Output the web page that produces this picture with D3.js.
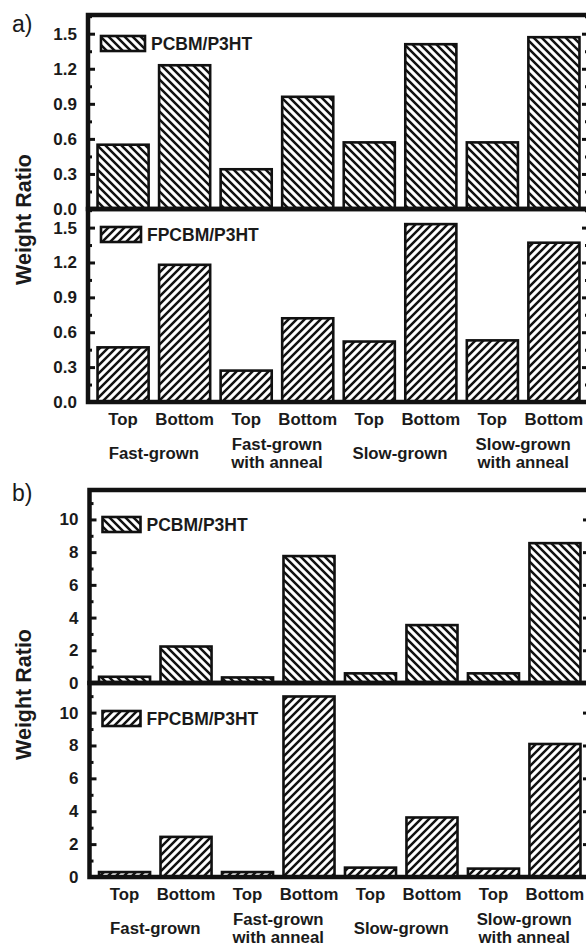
<!DOCTYPE html>
<html>
<head>
<meta charset="utf-8">
<script src="https://cdn.jsdelivr.net/npm/d3@7"></script>
<style>
  html, body { margin: 0; padding: 0; background: #fff; }
  svg { display: block; }
  text { font-family: "Liberation Sans", Arial, sans-serif; fill: #1a1a1a; }
</style>
</head>
<body>
<svg id="chart" width="586" height="946"></svg>
<script>
// ---------------- data ----------------
const positions = ["Top", "Bottom", "Top", "Bottom", "Top", "Bottom", "Top", "Bottom"];
const groups = [["Fast-grown"], ["Fast-grown", "with anneal"], ["Slow-grown"], ["Slow-grown", "with anneal"]];
const seriesNames = ["PCBM/P3HT", "FPCBM/P3HT"];

const aPCBM  = [0.55, 1.23, 0.34, 0.96, 0.57, 1.41, 0.57, 1.47];
const aFPCBM = [0.47, 1.18, 0.27, 0.72, 0.52, 1.53, 0.53, 1.37];
const bPCBM  = [0.38, 2.23, 0.34, 7.76, 0.59, 3.54, 0.59, 8.55];
const bFPCBM = [0.30, 2.44, 0.30, 10.98, 0.57, 3.62, 0.51, 8.09];

const aTicks = [0, 0.3, 0.6, 0.9, 1.2, 1.5];
const aMinor = [0.15, 0.45, 0.75, 1.05, 1.35, 1.65];
const bTicks = [0, 2, 4, 6, 8, 10];
const bMinor = [1, 3, 5, 7, 9, 11];

// ---------------- drawing ----------------
const svg = d3.select("#chart");
const defs = svg.append("defs");

function hatch(id, back) {
  const p = defs.append("pattern")
    .attr("id", id).attr("patternUnits", "userSpaceOnUse")
    .attr("width", 8).attr("height", 8);
  p.append("rect").attr("width", 8).attr("height", 8).attr("fill", "#fff");
  const d = back
    ? "M-2,-2 L10,10 M-2,6 L2,10 M6,-2 L10,2"
    : "M-2,10 L10,-2 M-2,2 L2,-2 M6,10 L10,6";
  p.append("path").attr("d", d).attr("stroke", "#111").attr("stroke-width", 2.5).attr("fill", "none");
}
hatch("hBack", true);
hatch("hFwd", false);

function subplot(cfg) {
  const g = svg.append("g");
  const x = d3.scaleLinear().domain([0.43, 8.57]).range([cfg.left, cfg.right]);
  const y = d3.scaleLinear().domain([0, cfg.ymax]).range([cfg.bottom, cfg.top]);
  const bw = 0.83;

  // bars
  g.selectAll("rect.bar").data(cfg.values).join("rect")
    .attr("class", "bar")
    .attr("x", (d, i) => x(i + 1 - bw / 2))
    .attr("width", x(1 + bw) - x(1))
    .attr("y", d => y(d))
    .attr("height", d => y(0) - y(d))
    .attr("fill", `url(#${cfg.pattern})`)
    .attr("stroke", "#111").attr("stroke-width", 2.6);

  // left axis (inward ticks)
  const left = g.append("g").attr("transform", `translate(${cfg.left},0)`)
    .call(d3.axisLeft(y).tickValues(cfg.ticks).tickSizeInner(-7).tickSizeOuter(0)
      .tickPadding(11).tickFormat(cfg.fmt));
  left.select(".domain").remove();
  left.selectAll("line").attr("stroke", "#111").attr("stroke-width", 3);
  left.selectAll("text").attr("font-size", 17).attr("font-weight", "bold")
    .attr("font-family", "'Liberation Sans', Arial, sans-serif").attr("fill", "#1a1a1a");

  const leftMinor = g.append("g").attr("transform", `translate(${cfg.left},0)`)
    .call(d3.axisLeft(y).tickValues(cfg.minor).tickSizeInner(-4).tickSizeOuter(0).tickFormat(""));
  leftMinor.select(".domain").remove();
  leftMinor.selectAll("line").attr("stroke", "#111").attr("stroke-width", 3);

  // right axis (inward ticks, no labels)
  const right = g.append("g").attr("transform", `translate(${cfg.right},0)`)
    .call(d3.axisRight(y).tickValues(cfg.ticks).tickSizeInner(-7).tickSizeOuter(0).tickFormat(""));
  right.select(".domain").remove();
  right.selectAll("line").attr("stroke", "#111").attr("stroke-width", 3);
  const rightMinor = g.append("g").attr("transform", `translate(${cfg.right},0)`)
    .call(d3.axisRight(y).tickValues(cfg.minor).tickSizeInner(-4).tickSizeOuter(0).tickFormat(""));
  rightMinor.select(".domain").remove();
  rightMinor.selectAll("line").attr("stroke", "#111").attr("stroke-width", 3);

  // frame
  g.append("rect").attr("x", cfg.left).attr("y", cfg.top)
    .attr("width", cfg.right - cfg.left).attr("height", cfg.bottom - cfg.top)
    .attr("fill", "none").attr("stroke", "#111").attr("stroke-width", 4.5);

  // legend
  g.append("rect").attr("x", cfg.left + cfg.lgX).attr("y", cfg.top + cfg.lgY)
    .attr("width", cfg.lgW).attr("height", cfg.lgH)
    .attr("fill", `url(#${cfg.pattern})`).attr("stroke", "#111").attr("stroke-width", 2.6);
  g.append("text").attr("x", cfg.left + cfg.lgX + cfg.lgW + 6)
    .attr("y", cfg.top + cfg.lgY + cfg.lgH / 2).attr("dy", "0.36em")
    .attr("font-size", 17.5).attr("font-weight", "bold").text(cfg.name);

  return x;
}

function xLabels(x, axisY, gap) {
  const g = svg.append("g");
  g.selectAll("text.pos").data(positions).join("text")
    .attr("class", "pos")
    .attr("x", (d, i) => x(i + 1)).attr("y", axisY + gap.pos)
    .attr("text-anchor", "middle").attr("font-size", 16.8).attr("font-weight", "bold").text(d => d);
  groups.forEach((lines, k) => {
    const cx = (x(2 * k + 1) + x(2 * k + 2)) / 2;
    const t = g.append("text").attr("text-anchor", "middle").attr("font-size", 16.8).attr("font-weight", "bold");
    if (lines.length === 1) {
      t.append("tspan").attr("x", cx).attr("y", axisY + gap.single).text(lines[0]);
    } else {
      t.append("tspan").attr("x", cx).attr("y", axisY + gap.l1).text(lines[0]);
      t.append("tspan").attr("x", cx).attr("y", axisY + gap.l2).text(lines[1]);
    }
  });
}

function panel(p) {
  const fmt = p.fmt;
  subplot({ left: p.left, right: p.right, top: p.top, bottom: p.mid, ymax: p.ymax,
    values: p.v1, pattern: "hBack", ticks: p.ticks, minor: p.minor, fmt,
    name: seriesNames[0], lgX: 13, lgY: p.lg1Y, lgW: p.lg1W, lgH: 15 });
  const x = subplot({ left: p.left, right: p.right, top: p.mid, bottom: p.bottom, ymax: p.ymax,
    values: p.v2, pattern: "hFwd", ticks: p.ticks, minor: p.minor, fmt,
    name: seriesNames[1], lgX: 13, lgY: p.lg2Y, lgW: p.lg2W, lgH: 15 });
  xLabels(x, p.bottom, { pos: 23, single: 57, l1: 48, l2: 66 });

  svg.append("text").attr("x", 12).attr("y", p.top + p.labelDy)
    .attr("font-size", 23).text(p.label);
  svg.append("text")
    .attr("transform", `translate(31,${(p.top + p.bottom) / 2 + 11}) rotate(-90)`)
    .attr("text-anchor", "middle").attr("font-size", 21.5).attr("font-weight", "bold")
    .text("Weight Ratio");
}

panel({ label: "a)", labelDy: 17, left: 88, right: 589, top: 15, mid: 209, bottom: 402,
  ymax: 1.66, ticks: aTicks, minor: aMinor, fmt: d3.format(".1f"),
  v1: aPCBM, v2: aFPCBM, lg1Y: 21, lg1W: 44, lg2Y: 18, lg2W: 40 });

panel({ label: "b)", labelDy: 11, left: 89.5, right: 590, top: 490, mid: 683, bottom: 877,
  ymax: 11.8, ticks: bTicks, minor: bMinor, fmt: d3.format("d"),
  v1: bPCBM, v2: bFPCBM, lg1Y: 27, lg1W: 38, lg2Y: 28, lg2W: 38 });
</script>
</body>
</html>
